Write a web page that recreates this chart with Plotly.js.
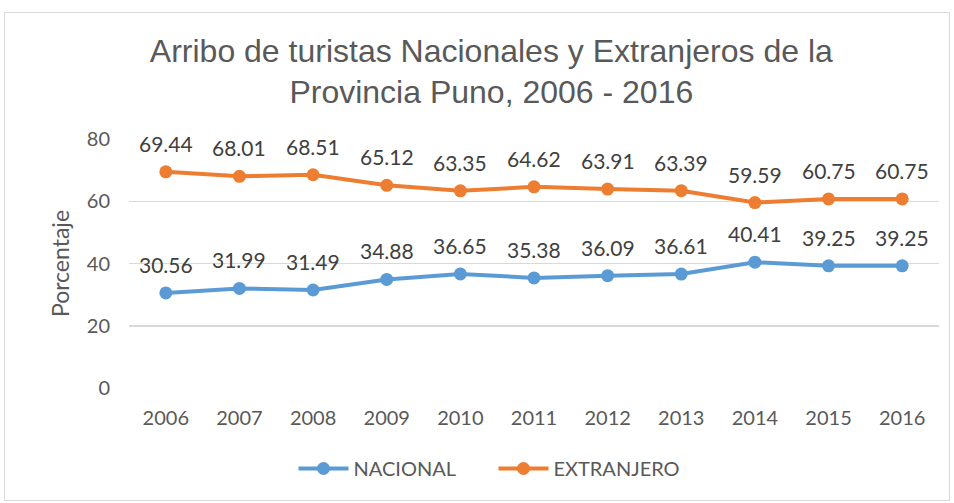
<!DOCTYPE html>
<html>
<head>
<meta charset="utf-8">
<script src="https://cdn.plot.ly/plotly-3.0.1.min.js"></script>
<style>
html,body{margin:0;padding:0;background:#fff;}
#wrap{position:relative;width:954px;height:503px;}
#frame{position:absolute;left:4px;top:12px;width:946px;height:489px;border:1px solid #d9d9d9;box-sizing:border-box;pointer-events:none;}
#chart{position:absolute;left:0;top:0;width:954px;height:503px;}
</style>
</head>
<body>
<div id="wrap"><div id="chart"></div><div id="frame"></div></div>
<script>
const years = ['2006','2007','2008','2009','2010','2011','2012','2013','2014','2015','2016'];
const nacional = [30.56,31.99,31.49,34.88,36.65,35.38,36.09,36.61,40.41,39.25,39.25];
const extranjero = [69.44,68.01,68.51,65.12,63.35,64.62,63.91,63.39,59.59,60.75,60.75];
const yTicks = [0,20,40,60,80];

const FONT = 'Lato, "Open Sans", sans-serif';
const labFont = {family:FONT, size:21, color:'#404040'};
function trace(name, y, color){
  return {
    type:'scatter', mode:'lines+markers', name:name, x:years, y:y,
    line:{color:color, width:4}, marker:{color:color, size:13},
    cliponaxis:false
  };
}
const data = [trace('NACIONAL', nacional, '#5b9bd5'), trace('EXTRANJERO', extranjero, '#ed7d31')];
const annotations = [];
[nacional, extranjero].forEach(arr => arr.forEach((v,i) => annotations.push({
  x:i, y:v, xref:'x', yref:'y', text:v.toFixed(2), showarrow:false,
  yanchor:'bottom', yshift:14, font:labFont
})));
const layout = {
  width:954, height:503,
  margin:{l:129, r:15, t:139, b:115},
  paper_bgcolor:'rgba(0,0,0,0)', plot_bgcolor:'#fff',
  title:{text:'Arribo de turistas Nacionales y Extranjeros de la<br>Provincia Puno, 2006 - 2016',
    font:{family:'"Liberation Sans", Arial, sans-serif', size:32, color:'#595959'},
    x:0.515, xanchor:'center', y:0.877, yanchor:'middle'},
  xaxis:{type:'category', range:[-0.5,10.5], showgrid:false, zeroline:false, showline:false,
    ticks:'outside', ticklen:12, tickcolor:'rgba(0,0,0,0)',
    tickfont:{family:FONT, size:20, color:'#595959'}},
  yaxis:{range:[0,80], tickvals:yTicks, gridcolor:'#d9d9d9', gridwidth:1.5, zeroline:false, showline:false,
    ticks:'outside', ticklen:14, tickcolor:'rgba(0,0,0,0)',
    tickfont:{family:FONT, size:20, color:'#595959'},
    title:{text:'Porcentaje', font:{family:FONT, size:23, color:'#595959'}, standoff:10}},
  annotations:annotations,
  showlegend:true,
  legend:{orientation:'h', x:0.45, xanchor:'center', y:-0.245, yanchor:'top',
    font:{family:FONT, size:20, color:'#595959'}, itemwidth:50, entrywidth:135},
};
Plotly.newPlot('chart', data, layout, {displayModeBar:false, staticPlot:true});
</script>
</body>
</html>
